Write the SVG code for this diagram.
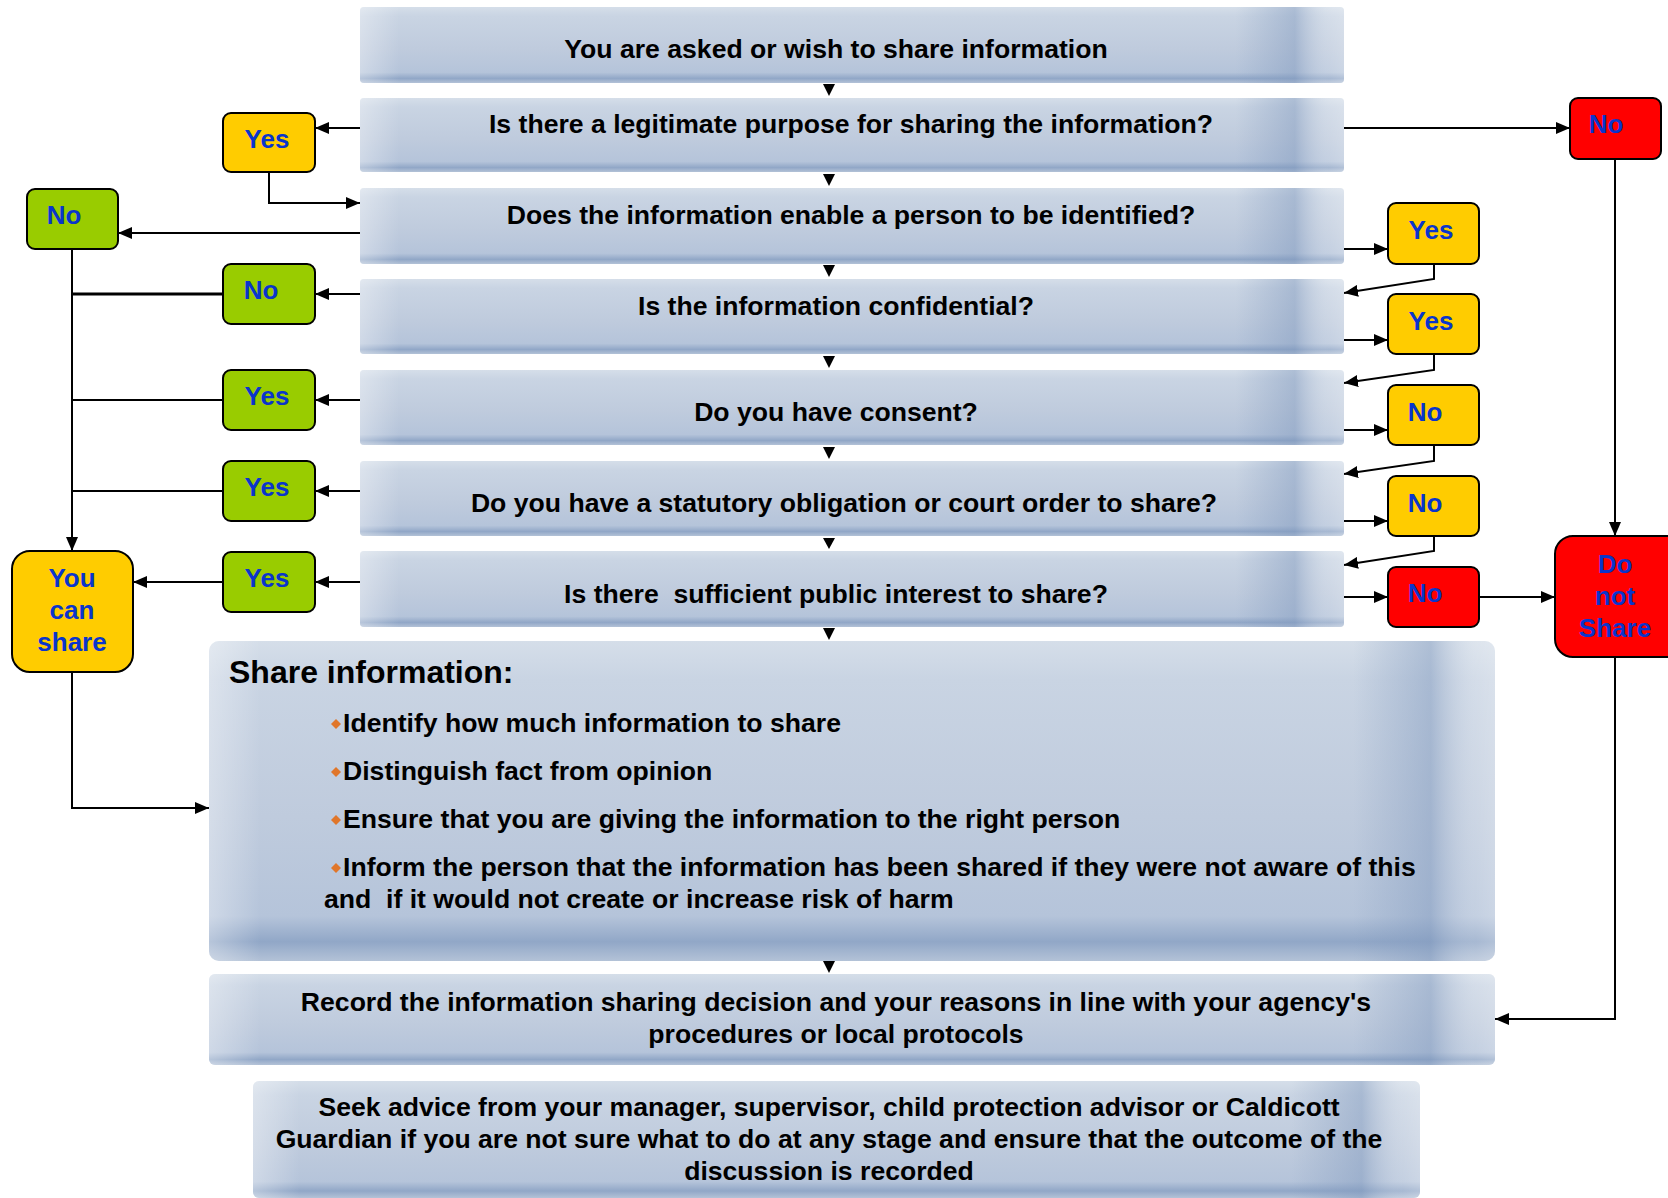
<svg xmlns="http://www.w3.org/2000/svg" width="1668" height="1198" viewBox="0 0 1668 1198">
<defs>
<linearGradient id="gv" x1="0" y1="0" x2="0" y2="1">
<stop offset="0" stop-color="#d5dee9"/>
<stop offset="0.12" stop-color="#c9d4e3"/>
<stop offset="0.55" stop-color="#bfcbdd"/>
<stop offset="0.86" stop-color="#b5c4da"/>
<stop offset="0.94" stop-color="#91a7c7"/>
<stop offset="1" stop-color="#b3c2d7"/>
</linearGradient>
<linearGradient id="gh" x1="0" y1="0" x2="1" y2="0">
<stop offset="0" stop-color="#ffffff" stop-opacity="0.35"/>
<stop offset="0.04" stop-color="#ffffff" stop-opacity="0"/>
<stop offset="0.89" stop-color="#7f98bd" stop-opacity="0"/>
<stop offset="0.95" stop-color="#7f98bd" stop-opacity="0.45"/>
<stop offset="0.985" stop-color="#ffffff" stop-opacity="0.2"/>
<stop offset="1" stop-color="#ffffff" stop-opacity="0.3"/>
</linearGradient>
<marker id="ah" viewBox="0 0 14 12" refX="14" refY="6" markerWidth="14" markerHeight="12" markerUnits="userSpaceOnUse" orient="auto">
<path d="M0,0 L14,6 L0,12 z" fill="#000"/>
</marker>
<style>
.box{fill:url(#gv)}
.ov{fill:url(#gh)}
.t{font-family:"Liberation Sans",Arial,sans-serif;font-weight:bold;font-size:26.6px;fill:#000}
.tm{text-anchor:middle}
.lbl{font-family:"Liberation Sans",Arial,sans-serif;font-weight:bold;font-size:26px;fill:#0a35cc;text-anchor:middle}
.yel{fill:#ffcc00;stroke:#000;stroke-width:2}
.grn{fill:#99cc00;stroke:#000;stroke-width:2}
.red{fill:#ff0000;stroke:#000;stroke-width:2}
.c{fill:none;stroke:#000;stroke-width:2}
.ca{fill:none;stroke:#000;stroke-width:2;marker-end:url(#ah)}
.dia{fill:#e0762a}
</style>
</defs>
<rect width="1668" height="1198" fill="#ffffff"/>

<g id="connectors">
<path class="ca" d="M360,128 H315"/>
<path class="ca" d="M269,172 V203 H360"/>
<path class="ca" d="M360,233 H118"/>
<path class="ca" d="M72,249 V551"/>
<path class="ca" d="M360,294 H315"/>
<path class="c" d="M223,294 H72" style="stroke-width:3"/>
<path class="ca" d="M360,400 H315"/>
<path class="c" d="M223,400 H72"/>
<path class="ca" d="M360,491 H315"/>
<path class="c" d="M223,491 H72"/>
<path class="ca" d="M360,582 H315"/>
<path class="ca" d="M223,582 H133"/>
<path class="ca" d="M72,672 V808 H209"/>
<path class="ca" d="M1344,128 H1570"/>
<path class="ca" d="M1615,159 V536"/>
<path class="ca" d="M1344,249 H1388"/>
<path class="ca" d="M1434,264 V279 L1344,293"/>
<path class="ca" d="M1344,340 H1388"/>
<path class="ca" d="M1434,354 V370 L1344,383"/>
<path class="ca" d="M1344,430 H1388"/>
<path class="ca" d="M1434,445 V461 L1344,474"/>
<path class="ca" d="M1344,521 H1388"/>
<path class="ca" d="M1434,536 V551 L1344,565"/>
<path class="ca" d="M1344,597 H1388"/>
<path class="ca" d="M1479,597 H1555"/>
<path class="ca" d="M1615,657 V1019 H1495"/>
<polygon points="823,84 835,84 829,96"/>
<polygon points="823,174 835,174 829,186"/>
<polygon points="823,265 835,265 829,277"/>
<polygon points="823,356 835,356 829,368"/>
<polygon points="823,447 835,447 829,459"/>
<polygon points="823,538 835,538 829,549"/>
<polygon points="823,628 835,628 829,640"/>
<polygon points="823,961 835,961 829,973"/>
</g>

<g id="n-start">
<rect class="box" x="360" y="7" width="984" height="76" rx="4"/>
<rect class="ov" x="360" y="7" width="984" height="76" rx="4"/>
<text class="t tm" x="836" y="58">You are asked or wish to share information</text>
</g>
<g id="n-q1">
<rect class="box" x="360" y="98" width="984" height="74" rx="4"/>
<rect class="ov" x="360" y="98" width="984" height="74" rx="4"/>
<text class="t tm" x="851" y="133">Is there a legitimate purpose for sharing the information?</text>
</g>
<g id="n-q2">
<rect class="box" x="360" y="188" width="984" height="76" rx="4"/>
<rect class="ov" x="360" y="188" width="984" height="76" rx="4"/>
<text class="t tm" x="851" y="224">Does the information enable a person to be identified?</text>
</g>
<g id="n-q3">
<rect class="box" x="360" y="279" width="984" height="75" rx="4"/>
<rect class="ov" x="360" y="279" width="984" height="75" rx="4"/>
<text class="t tm" x="836" y="315">Is the information confidential?</text>
</g>
<g id="n-q4">
<rect class="box" x="360" y="370" width="984" height="75" rx="4"/>
<rect class="ov" x="360" y="370" width="984" height="75" rx="4"/>
<text class="t tm" x="836" y="421">Do you have consent?</text>
</g>
<g id="n-q5">
<rect class="box" x="360" y="461" width="984" height="75" rx="4"/>
<rect class="ov" x="360" y="461" width="984" height="75" rx="4"/>
<text class="t tm" x="844" y="512">Do you have a statutory obligation or court order to share?</text>
</g>
<g id="n-q6">
<rect class="box" x="360" y="551" width="984" height="76" rx="4"/>
<rect class="ov" x="360" y="551" width="984" height="76" rx="4"/>
<text class="t tm" x="836" y="603" xml:space="preserve">Is there  sufficient public interest to share?</text>
</g>

<g id="n-share-info">
<rect class="box" x="209" y="641" width="1286" height="320" rx="10"/>
<rect class="ov" x="209" y="641" width="1286" height="320" rx="10"/>
<text class="t" x="229" y="683" style="font-size:32px">Share information:</text>
<polygon class="dia" points="336,719 341,724 336,729 331,724"/>
<text class="t" x="343" y="732">Identify how much information to share</text>
<polygon class="dia" points="336,767 341,772 336,777 331,772"/>
<text class="t" x="343" y="780">Distinguish fact from opinion</text>
<polygon class="dia" points="336,815 341,820 336,825 331,820"/>
<text class="t" x="343" y="828">Ensure that you are giving the information to the right person</text>
<polygon class="dia" points="336,863 341,868 336,873 331,868"/>
<text class="t" x="343" y="876">Inform the person that the information has been shared if they were not aware of this</text>
<text class="t" x="324" y="908" xml:space="preserve">and  if it would not create or increase risk of harm</text>
</g>

<g id="n-record">
<rect class="box" x="209" y="974" width="1286" height="91" rx="6"/>
<rect class="ov" x="209" y="974" width="1286" height="91" rx="6"/>
<text class="t tm" x="836" y="1011">Record the information sharing decision and your reasons in line with your agency's</text>
<text class="t tm" x="836" y="1043">procedures or local protocols</text>
</g>

<g id="n-seek">
<rect class="box" x="253" y="1081" width="1167" height="117" rx="6"/>
<rect class="ov" x="253" y="1081" width="1167" height="117" rx="6"/>
<text class="t tm" x="829" y="1116">Seek advice from your manager, supervisor, child protection advisor or Caldicott</text>
<text class="t tm" x="829" y="1148">Guardian if you are not sure what to do at any stage and ensure that the outcome of the</text>
<text class="t tm" x="829" y="1180">discussion is recorded</text>
</g>

<g id="n-yes-legit">
<rect class="yel" x="223" y="113" width="92" height="59" rx="8"/>
<text class="lbl" x="267" y="148">Yes</text>
</g>
<g id="n-no-legit">
<rect class="red" x="1570" y="98" width="91" height="61" rx="8"/>
<text class="lbl" x="1606" y="133">No</text>
</g>
<g id="n-no-ident">
<rect class="grn" x="27" y="189" width="91" height="60" rx="8"/>
<text class="lbl" x="64" y="224">No</text>
</g>
<g id="n-no-conf">
<rect class="grn" x="223" y="264" width="92" height="60" rx="8"/>
<text class="lbl" x="261" y="299">No</text>
</g>
<g id="n-yes-consent">
<rect class="grn" x="223" y="370" width="92" height="60" rx="8"/>
<text class="lbl" x="267" y="405">Yes</text>
</g>
<g id="n-yes-statutory">
<rect class="grn" x="223" y="461" width="92" height="60" rx="8"/>
<text class="lbl" x="267" y="496">Yes</text>
</g>
<g id="n-yes-public">
<rect class="grn" x="223" y="552" width="92" height="60" rx="8"/>
<text class="lbl" x="267" y="587">Yes</text>
</g>
<g id="n-you-can-share">
<rect class="yel" x="12" y="551" width="121" height="121" rx="18"/>
<text class="lbl" x="72" y="587">You</text>
<text class="lbl" x="72" y="619">can</text>
<text class="lbl" x="72" y="651">share</text>
</g>
<g id="n-yes-ident">
<rect class="yel" x="1388" y="203" width="91" height="61" rx="8"/>
<text class="lbl" x="1431" y="239">Yes</text>
</g>
<g id="n-yes-conf">
<rect class="yel" x="1388" y="294" width="91" height="60" rx="8"/>
<text class="lbl" x="1431" y="330">Yes</text>
</g>
<g id="n-no-consent">
<rect class="yel" x="1388" y="385" width="91" height="60" rx="8"/>
<text class="lbl" x="1425" y="421">No</text>
</g>
<g id="n-no-statutory">
<rect class="yel" x="1388" y="476" width="91" height="60" rx="8"/>
<text class="lbl" x="1425" y="512">No</text>
</g>
<g id="n-no-public">
<rect class="red" x="1388" y="567" width="91" height="60" rx="8"/>
<text class="lbl" x="1425" y="602">No</text>
</g>
<g id="n-do-not-share">
<rect class="red" x="1555" y="536" width="130" height="121" rx="18"/>
<text class="lbl" x="1615" y="573">Do</text>
<text class="lbl" x="1615" y="605">not</text>
<text class="lbl" x="1615" y="637">Share</text>
</g>
</svg>
